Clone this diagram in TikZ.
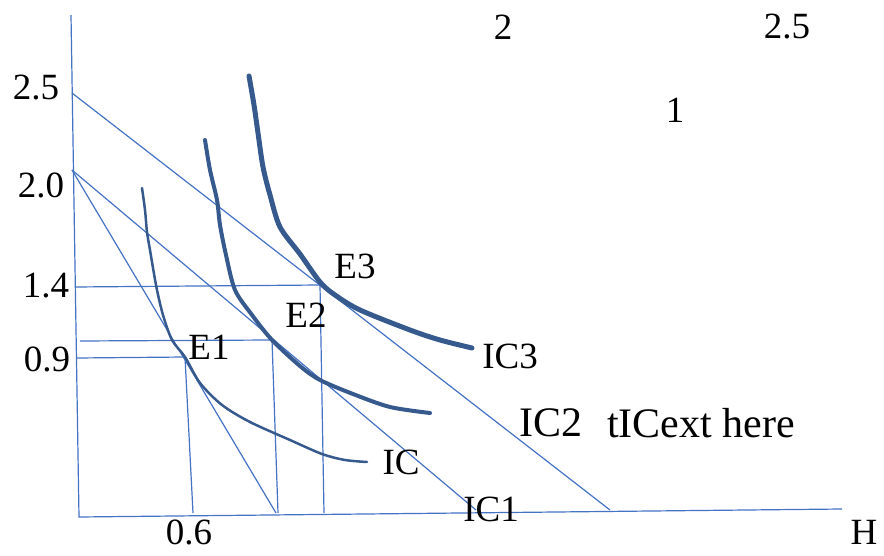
\documentclass[tikz,border=0pt]{standalone}
\usepackage{fontspec}
\setmainfont{Liberation Serif}
\usepackage{tikz}
\usetikzlibrary{positioning,calc}
\definecolor{lineblue}{RGB}{68,114,196}
\definecolor{curveblue}{RGB}{54,90,142}
\tikzset{
  guide/.style={lineblue, line width=1.2pt},
  iccurve/.style={curveblue, line cap=round, line join=round},
  lbl/.style={inner sep=0pt, font=\fontsize{37}{40}\selectfont},
  biglbl/.style={inner sep=0pt, font=\fontsize{42}{45}\selectfont},
}

\begin{document}
\begin{tikzpicture}[x=1pt, y=-1pt]
  \useasboundingbox (0,0) rectangle (884,556);
  % axes
  \coordinate (ytop) at (71,15);
  \coordinate (orig) at (79,517);
  \coordinate (xend) at (842,509);
  \draw[guide] (ytop) -- (orig) -- (xend);
  % budget lines
  \coordinate (b25) at (72,93);
  \coordinate (b20) at (72,170);
  \coordinate (xa) at (610,510);
  \coordinate (xb) at (476,510);
  \coordinate (xc) at (276,513);
  \draw[guide] (b25) -- (xa);
  \draw[guide] (b20) -- (xb);
  \draw[guide] (b20) -- (xc);
  % tangency points
  \coordinate (e1) at (185,357);
  \coordinate (e2) at (272,340);
  \coordinate (e3) at (320,285);
  % projections onto the axes
  \draw[guide] (77,358) -- (e1) -- (193,513);
  \draw[guide] (80,341) -- (e2) -- (278,513);
  \draw[guide] (75,287) -- (e3) -- (324,513);
  % indifference curves
  \draw[iccurve, line width=2.5pt] plot[smooth, tension=0.5] coordinates {
    (142,188) (145,210) (147,232) (150,250) (153,268) (157,290) (163,315)
    (172,340) (185,357) (200,383) (222,405) (250,422) (290,440) (322,454)
    (345,460) (367,462)};
  \draw[iccurve, line width=4pt] plot[smooth, tension=0.5] coordinates {
    (205,140) (210,170) (217,200) (220,225) (226,255) (235,290) (252,315)
    (272,340) (300,366) (320,380) (353,394) (390,407) (430,413)};
  \draw[iccurve, line width=5pt] plot[smooth, tension=0.5] coordinates {
    (249,76) (254,105) (258,133) (263,167) (270,195) (280,227) (300,254)
    (320,282) (335,295) (360,310) (410,330) (440,340) (472,348)};
  % axis values
  \node[lbl] (v25) at (36,88) {2.5};
  \node[lbl] (v20) at (41,185) {2.0};
  \node[lbl] (v14) at (46,286) {1.4};
  \node[lbl] (v09) at (47,359) {0.9};
  \node[lbl] (h06) at (189,532) {0.6};
  \node[lbl] (hlab) at (864,532) {H};
  % points and curves
  \node[lbl] (le1) at (209,347) {E1};
  \node[lbl] (le2) at (306,315) {E2};
  \node[lbl] (le3) at (355,266) {E3};
  \node[lbl] (lic) at (401,462) {IC};
  \node[lbl] (lic1) at (491,509) {IC1};
  \node[lbl] (lic3) at (510,356) {IC3};
  \node[biglbl] (lic2) at (551,423) {IC2};
  \node[biglbl, anchor=west] (ltext) at (607,423) {tICext here};
  % loose values top right
  \node[lbl] (t2) at (503,27) {2};
  \node[lbl] (t25) at (787,27) {2.5};
  \node[lbl] (t1) at (675,110) {1};
\end{tikzpicture}
\end{document}
